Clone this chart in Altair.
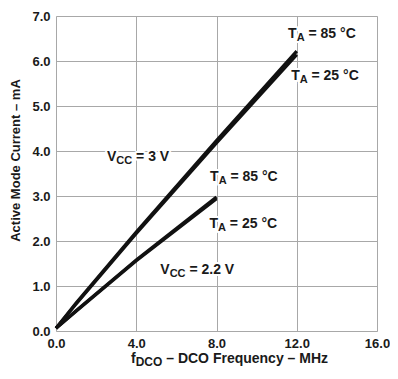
import altair as alt
import pandas as pd

# ---- data ----
freq_3v = [0.0, 1.0, 4.0, 8.0, 12.0]
i_3v_85 = [0.06, 0.62, 2.20, 4.23, 6.22]
i_3v_25 = [0.06, 0.60, 2.17, 4.18, 6.14]
freq_22v = [0.0, 1.0, 4.0, 8.0]
i_22v_85 = [0.06, 0.45, 1.58, 2.98]
i_22v_25 = [0.06, 0.44, 1.56, 2.94]

x_ticks = [0, 4, 8, 12, 16]
y_ticks = [0, 1, 2, 3, 4, 5, 6, 7]

label_main = ["T", "T", "T", "T", "V", "V"]
label_sub = ["A", "A", "A", "A", "CC", "CC"]
label_rest = ["= 85 °C", "= 25 °C", "= 85 °C", "= 25 °C", "= 3 V", "= 2.2 V"]
label_f = [11.57, 11.72, 7.68, 7.65, 2.54, 5.20]
label_i = [6.51, 5.57, 3.33, 2.30, 3.77, 1.26]

rows = []
for name, fx, iy in [("3V 85", freq_3v, i_3v_85), ("3V 25", freq_3v, i_3v_25),
                     ("2.2V 85", freq_22v, i_22v_85), ("2.2V 25", freq_22v, i_22v_25)]:
    for f, i in zip(fx, iy):
        rows.append({"series": name, "f": f, "i": i})
df = pd.DataFrame(rows)

FONT = "Liberation Sans"
INK = "#1a1a1a"
W = {"T": 0.611, "V": 0.667, "A": 0.722, "C": 0.722, "D": 0.722, "O": 0.778, "f": 0.333, " ": 0.278}


def tw(s, size):
    return sum(W[c] for c in s) * size


x_scale = alt.Scale(domain=[0, 16], nice=False, zero=False)
y_scale = alt.Scale(domain=[0, 7], nice=False, zero=False)

x_axis = alt.Axis(values=x_ticks, format=".1f", title=None, grid=True, ticks=False, tickSize=0,
                  domain=False, labelPadding=6, labelFont=FONT, labelFontSize=13,
                  labelFontWeight="bold", labelColor=INK, labelFlush=False,
                  gridColor="#a8a8a8", gridWidth=1)
y_axis = alt.Axis(values=y_ticks, format=".1f", title="Active Mode Current – mA", grid=True,
                  ticks=False, tickSize=0, domain=False, labelPadding=6, labelFont=FONT,
                  labelFontSize=13, labelFontWeight="bold", labelColor=INK, labelFlush=False,
                  gridColor="#a8a8a8", gridWidth=1,
                  titleFont=FONT, titleFontSize=13, titleFontWeight="bold", titleColor=INK,
                  titleX=-47, titleY=144, titleBaseline="top", titleAlign="center")

lines = alt.Chart(df).mark_line(color="#111111", strokeWidth=3.2).encode(
    x=alt.X("f:Q", scale=x_scale, axis=x_axis),
    y=alt.Y("i:Q", scale=y_scale, axis=y_axis),
    detail="series:N",
)

layers = [lines]

MAIN, SUB = 14, 11
pieces = []
for m, s, r, fx, iy in zip(label_main, label_sub, label_rest, label_f, label_i):
    d1 = tw(m, MAIN)
    d2 = d1 + tw(s, SUB) + tw(" ", MAIN)
    pieces += [(m, fx, iy, 0, 0, MAIN), (s, fx, iy, d1, 3, SUB), (r, fx, iy, d2, 0, MAIN)]

for halo in (True, False):
    for txt, fx, iy, dx, dy, size in pieces:
        pdf = pd.DataFrame({"f": [fx], "i": [iy], "t": [txt]})
        kw = dict(align="left", baseline="alphabetic", dx=dx, dy=dy, font=FONT,
                  fontSize=size, fontWeight="bold")
        if halo:
            mk = alt.Chart(pdf).mark_text(stroke="white", strokeWidth=4, fill="white",
                                          strokeJoin="round", **kw)
        else:
            mk = alt.Chart(pdf).mark_text(color=INK, **kw)
        layers.append(mk.encode(
            x=alt.X("f:Q", scale=x_scale, axis=x_axis),
            y=alt.Y("i:Q", scale=y_scale, axis=y_axis),
            text="t:N",
        ))

# x axis title with subscript
one = pd.DataFrame({"a": [0]})
TX, TY = 75, 347
t_f = "f"
t_sub = "DCO"
t_rest = "– DCO Frequency – MHz"
x_f = TX
x_sub = TX + tw(t_f, 14)
x_rest = x_sub + tw(t_sub, 12) + tw(" ", 14)
for txt, xx, yy, size in [(t_f, x_f, TY, 14), (t_sub, x_sub, TY + 3, 12), (t_rest, x_rest, TY, 14)]:
    layers.append(alt.Chart(one).mark_text(align="left", baseline="alphabetic", font=FONT,
                                           fontSize=size, fontWeight="bold", color=INK).encode(
        x=alt.value(xx), y=alt.value(yy), text=alt.value(txt)))

chart = alt.layer(*layers).properties(
    width=321, height=315,
    autosize=alt.AutoSizeParams(type="none"),
    padding={"left": 48, "top": 8, "right": 13, "bottom": 40},
).configure_view(stroke="#333333", strokeWidth=1.2).configure(background="white")

chart.save("out.html", embed_options={"renderer": "svg", "actions": False})
